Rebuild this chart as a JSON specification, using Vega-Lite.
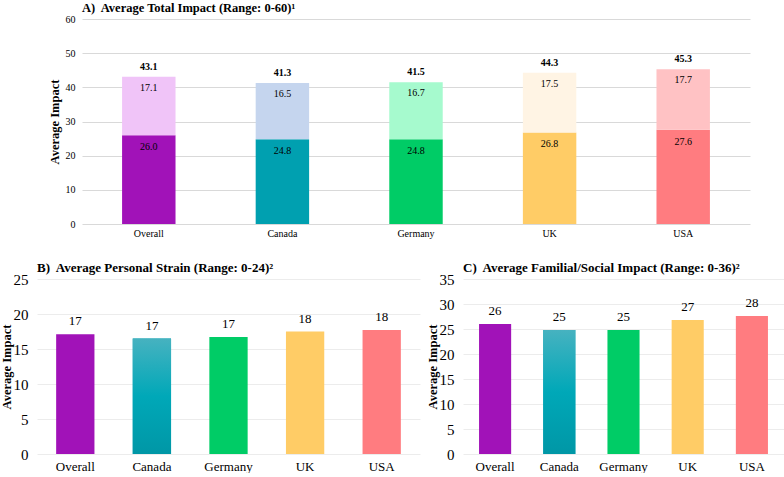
{
  "$schema": "https://vega.github.io/schema/vega-lite/v6.json",
  "padding": {"left": 0, "top": 1, "right": 0, "bottom": 0},
  "background": "#ffffff",
  "config": {"view": {"stroke": null}, "font": "Liberation Serif"},
  "datasets": {
    "impact": [
      {"country": "Overall", "personal": 17.1, "familial": 26.0, "total": 43.1},
      {"country": "Canada", "personal": 16.5, "familial": 24.8, "total": 41.3},
      {"country": "Germany", "personal": 16.7, "familial": 24.8, "total": 41.5},
      {"country": "UK", "personal": 17.5, "familial": 26.8, "total": 44.3},
      {"country": "USA", "personal": 17.7, "familial": 27.6, "total": 45.3}
    ]
  },
  "spacing": 24,
  "columns": 1,
  "align": "none",
  "concat": [
    {
      "spacing": 0,
      "hconcat": [
        {
          "width": 11,
          "height": 205,
          "data": {"name": "impact"},
          "transform": [{"filter": "false"}],
          "mark": {"type": "rule"},
          "encoding": {}
        },
        {
          "width": 668,
          "height": 205,
          "data": {"name": "impact"},
          "title": {"text": "A)\u00a0 Average Total Impact (Range: 0-60)¹", "anchor": "start", "frame": "group", "fontSize": 12.5, "fontWeight": "bold", "color": "#000000", "offset": 0},
          "encoding": {
            "x": {"field": "country", "type": "nominal", "sort": null,
              "scale": {"paddingInner": 0.6, "paddingOuter": 0.3},
              "axis": {"title": null, "labelAngle": 0, "ticks": false, "domain": false, "labelFontSize": 10, "labelColor": "#000000", "labelPadding": 4}},
            "y": {"field": "familial", "type": "quantitative", "stack": null,
              "scale": {"domain": [0, 60]},
              "axis": {"title": "Average Impact", "titleFontSize": 12.5, "titleFontWeight": "bold", "titleColor": "#000000", "titlePadding": 4,
                "values": [0, 10, 20, 30, 40, 50, 60], "tickCount": 7, "labelOverlap": false, "grid": true, "gridColor": "#D9D9D9", "gridWidth": 1, "domain": false, "ticks": false,
                "labelFontSize": 10, "labelColor": "#000000", "labelPadding": 7}}
          },
          "layer": [
            {
              "mark": {"type": "bar"},
              "encoding": {
                "color": {"field": "country", "type": "nominal", "legend": null,
                  "scale": {"domain": ["Overall", "Canada", "Germany", "UK", "USA"], "range": ["#A112B8", "#00A0B0", "#00CC66", "#FFCC66", "#FF7C80"]}}
              }
            },
            {
              "mark": {"type": "bar"},
              "encoding": {
                "y2": {"field": "total"},
                "color": {"field": "country", "type": "nominal", "legend": null,
                  "scale": {"domain": ["Overall", "Canada", "Germany", "UK", "USA"], "range": ["#F0C4F8", "#C5D5EE", "#A6FACE", "#FFF4E4", "#FFC2C4"]}}
              }
            },
            {
              "mark": {"type": "text", "baseline": "middle", "dy": 12, "fontSize": 10, "color": "#000000"},
              "encoding": {
                "text": {"field": "familial", "type": "quantitative", "format": ".1f"}
              }
            },
            {
              "mark": {"type": "text", "baseline": "middle", "dy": 11, "fontSize": 10, "color": "#000000"},
              "encoding": {
                "y": {"field": "total", "type": "quantitative", "stack": null,
                  "axis": {"title": "Average Impact", "titleFontSize": 12.5, "titleFontWeight": "bold", "titleColor": "#000000", "titlePadding": 4,
                    "values": [0, 10, 20, 30, 40, 50, 60], "tickCount": 7, "labelOverlap": false, "grid": true, "gridColor": "#D9D9D9", "gridWidth": 1, "domain": false, "ticks": false,
                    "labelFontSize": 10, "labelColor": "#000000", "labelPadding": 7}},
                "text": {"field": "personal", "type": "quantitative", "format": ".1f"}
              }
            },
            {
              "mark": {"type": "text", "baseline": "middle", "dy": -10, "fontSize": 10, "fontWeight": "bold", "color": "#000000"},
              "encoding": {
                "y": {"field": "total", "type": "quantitative", "stack": null,
                  "axis": {"title": "Average Impact", "titleFontSize": 12.5, "titleFontWeight": "bold", "titleColor": "#000000", "titlePadding": 4,
                    "values": [0, 10, 20, 30, 40, 50, 60], "tickCount": 7, "labelOverlap": false, "grid": true, "gridColor": "#D9D9D9", "gridWidth": 1, "domain": false, "ticks": false,
                    "labelFontSize": 10, "labelColor": "#000000", "labelPadding": 7}},
                "text": {"field": "total", "type": "quantitative", "format": ".1f"}
              }
            }
          ],
          "resolve": {"scale": {"color": "independent"}}
        }
      ]
    },
    {
      "hconcat": [
        {
          "width": 383,
          "height": 175,
          "data": {"name": "impact"},
          "title": {"text": "B)\u00a0 Average Personal Strain (Range: 0-24)²", "anchor": "start", "frame": "group", "fontSize": 13, "fontWeight": "bold", "color": "#000000", "offset": -3},
          "encoding": {
            "x": {"field": "country", "type": "nominal", "sort": null,
              "scale": {"paddingInner": 0.5, "paddingOuter": 0.25},
              "axis": {"title": null, "labelAngle": 0, "ticks": false, "domain": false, "labelFontSize": 13, "labelColor": "#000000", "labelPadding": 6}},
            "y": {"field": "personal", "type": "quantitative", "stack": null,
              "scale": {"domain": [0, 25]},
              "axis": {"title": "Average Impact", "titleFontSize": 12.5, "titleFontWeight": "bold", "titleColor": "#000000", "titlePadding": 0,
                "values": [0, 5, 10, 15, 20, 25], "labelOverlap": false, "grid": true, "gridColor": "#ECECEC", "domain": false, "ticks": false,
                "labelFontSize": 15, "labelColor": "#000000", "labelPadding": 9}}
          },
          "layer": [
            {
              "mark": {"type": "bar"},
              "encoding": {
                "color": {"field": "country", "type": "nominal", "legend": null,
                  "scale": {"domain": ["Overall", "Canada", "Germany", "UK", "USA"], "range": ["#A112B8", "#00A0B0", "#00CC66", "#FFCC66", "#FF7C80"]}}
              }
            },
            {
              "transform": [{"filter": "datum.country === 'Canada'"}],
              "mark": {"type": "bar", "color": {"gradient": "linear", "x1": 0, "y1": 0, "x2": 0, "y2": 1, "stops": [{"offset": 0, "color": "#46B2C0"}, {"offset": 0.5, "color": "#00A8B8"}, {"offset": 1, "color": "#0097A6"}]}},
              "encoding": {}
            },
            {
              "mark": {"type": "text", "baseline": "middle", "dy": -13, "fontSize": 13, "color": "#000000"},
              "encoding": {
                "text": {"field": "personal", "type": "quantitative", "format": ".0f"}
              }
            }
          ]
        },
        {
          "width": 321,
          "height": 175,
          "data": {"name": "impact"},
          "title": {"text": "C)\u00a0 Average Familial/Social Impact (Range: 0-36)²", "anchor": "start", "frame": "group", "fontSize": 13, "fontWeight": "bold", "color": "#000000", "offset": -3},
          "encoding": {
            "x": {"field": "country", "type": "nominal", "sort": null,
              "scale": {"paddingInner": 0.5, "paddingOuter": 0.25},
              "axis": {"title": null, "labelAngle": 0, "ticks": false, "domain": false, "labelFontSize": 13, "labelColor": "#000000", "labelPadding": 6}},
            "y": {"field": "familial", "type": "quantitative", "stack": null,
              "scale": {"domain": [0, 35]},
              "axis": {"title": "Average Impact", "titleFontSize": 12.5, "titleFontWeight": "bold", "titleColor": "#000000", "titlePadding": 0,
                "values": [0, 5, 10, 15, 20, 25, 30, 35], "labelOverlap": false, "grid": true, "gridColor": "#ECECEC", "domain": false, "ticks": false,
                "labelFontSize": 15, "labelColor": "#000000", "labelPadding": 9}}
          },
          "layer": [
            {
              "mark": {"type": "bar"},
              "encoding": {
                "color": {"field": "country", "type": "nominal", "legend": null,
                  "scale": {"domain": ["Overall", "Canada", "Germany", "UK", "USA"], "range": ["#A112B8", "#00A0B0", "#00CC66", "#FFCC66", "#FF7C80"]}}
              }
            },
            {
              "transform": [{"filter": "datum.country === 'Canada'"}],
              "mark": {"type": "bar", "color": {"gradient": "linear", "x1": 0, "y1": 0, "x2": 0, "y2": 1, "stops": [{"offset": 0, "color": "#46B2C0"}, {"offset": 0.5, "color": "#00A8B8"}, {"offset": 1, "color": "#0097A6"}]}},
              "encoding": {}
            },
            {
              "mark": {"type": "text", "baseline": "middle", "dy": -13, "fontSize": 13, "color": "#000000"},
              "encoding": {
                "text": {"field": "familial", "type": "quantitative", "format": ".0f"}
              }
            }
          ]
        }
      ],
      "spacing": 6
    }
  ]
}
